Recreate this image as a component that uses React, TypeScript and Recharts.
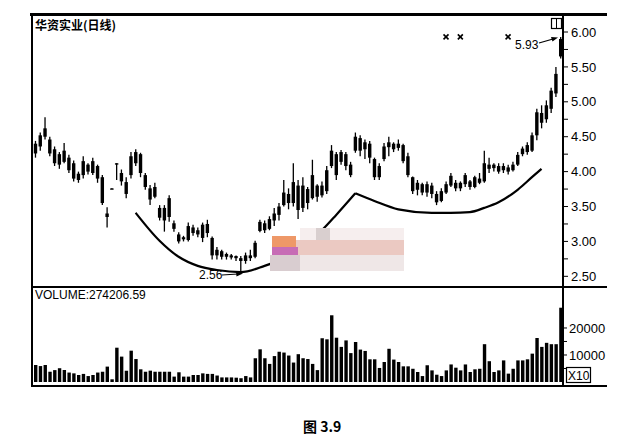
import { Bar, ComposedChart, Line, Scatter, XAxis, YAxis } from "recharts";

// daily candles (oldest first)
const opens = [
  4.26, 4.36, 4.5, 4.46, 4.32, 4.1, 4.14, 4.2, 4.12, 3.88,
  3.95, 4.1, 3.98, 4.08, 3.92, 3.4, 3.75, 4.12, 3.98, 3.85,
  3.95, 4.12, 4.25, 3.95, 3.76, 3.64, 3.48, 3.3, 3.35, 3.26,
  3.1, 3.03, 3.02, 3.2, 3.1, 3.05, 3.25, 3.05, 2.8, 2.86,
  2.78, 2.8, 2.76, 2.76, 2.72, 2.8, 2.78, 3.15, 3.26, 3.18,
  3.3, 3.38, 3.52, 3.68, 3.55, 3.8, 3.48, 3.75, 3.62, 3.8,
  3.66, 3.72, 4.08, 4.25, 4.14, 4.25, 4.1, 4.3, 4.48, 4.32,
  4.4, 4.18, 3.92, 4.18, 4.35, 4.4, 4.34, 4.38, 4.22, 3.92,
  3.74, 3.82, 3.7, 3.8, 3.68, 3.58, 3.7, 3.8, 3.84, 3.76,
  3.82, 3.86, 3.78, 3.9, 3.86, 4.1, 4.05, 4.08, 4.02, 4.06,
  4.02, 4.1, 4.25, 4.38, 4.3, 4.52, 4.84, 4.75, 4.9, 5.12,
  5.9,
];
const closes = [
  4.4, 4.52, 4.62, 4.26, 4.12, 4.25, 4.3, 4.02, 3.9, 3.97,
  4.15, 4.0, 4.15, 3.9, 3.55, 3.35, 3.76, 4.11, 3.86, 3.68,
  4.22, 4.28, 3.98, 3.78, 3.6, 3.78, 3.34, 3.48, 3.62, 3.18,
  3.0, 3.06, 3.22, 3.12, 3.16, 3.24, 3.12, 2.8, 2.88, 2.78,
  2.82, 2.77, 2.79, 2.72, 2.8, 2.76, 2.98, 3.28, 3.16, 3.32,
  3.4, 3.5, 3.7, 3.55, 3.85, 3.45, 3.8, 3.55, 3.95, 3.64,
  3.8, 4.02, 4.3, 3.95, 4.28, 4.08, 3.95, 4.5, 4.3, 4.42,
  4.2, 3.92, 4.08, 4.36, 4.42, 4.32, 4.4, 4.15, 3.95, 3.72,
  3.84, 3.7, 3.82, 3.68, 3.56, 3.72, 3.82, 3.94, 3.76, 3.84,
  3.95, 3.78, 3.92, 3.84, 4.12, 4.04, 4.1, 4.0, 4.08, 4.0,
  4.1, 4.24, 4.33, 4.28, 4.52, 4.85, 4.7, 4.95, 5.16, 5.4,
  5.65,
];
const highs = [
  4.44, 4.56, 4.78, 4.5, 4.36, 4.28, 4.41, 4.24, 4.16, 4.0,
  4.22, 4.12, 4.2, 4.1, 3.95, 3.49, 3.76, 4.12, 4.03, 3.92,
  4.28, 4.32, 4.27, 3.98, 3.81, 3.84, 3.52, 3.52, 3.66, 3.3,
  3.13, 3.08, 3.27, 3.24, 3.2, 3.27, 3.31, 3.07, 2.92, 2.88,
  2.84, 2.82, 2.8, 2.79, 2.84, 2.88, 3.01, 3.31, 3.3, 3.36,
  3.48, 3.55, 3.88, 3.76, 4.12, 3.88, 3.92, 3.78, 4.17, 3.82,
  3.86, 4.08, 4.38, 4.28, 4.31, 4.28, 4.14, 4.56, 4.52, 4.46,
  4.44, 4.2, 4.12, 4.41, 4.5, 4.42, 4.46, 4.4, 4.27, 3.93,
  3.88, 3.84, 3.86, 3.84, 3.72, 3.76, 3.86, 3.98, 3.88, 3.86,
  3.98, 3.88, 3.94, 3.98, 4.3, 4.2, 4.12, 4.12, 4.12, 4.1,
  4.14, 4.28, 4.36, 4.42, 4.56, 4.9, 4.95, 5.02, 5.2, 5.5,
  5.93,
];
const lows = [
  4.2, 4.3, 4.46, 4.22, 4.08, 4.04, 4.12, 3.98, 3.86, 3.84,
  3.9, 3.96, 3.95, 3.84, 3.52, 3.2, 3.75, 3.88, 3.8, 3.62,
  3.9, 4.08, 3.92, 3.74, 3.52, 3.62, 3.3, 3.14, 3.28, 3.14,
  2.97, 3.0, 3.0, 3.08, 3.06, 2.99, 3.06, 2.74, 2.74, 2.74,
  2.74, 2.74, 2.72, 2.56, 2.68, 2.72, 2.76, 3.13, 3.12, 3.16,
  3.22, 3.3, 3.5, 3.46, 3.5, 3.32, 3.42, 3.46, 3.6, 3.57,
  3.63, 3.68, 4.05, 3.88, 4.1, 4.02, 3.92, 4.27, 4.22, 4.18,
  4.12, 3.88, 3.88, 4.15, 4.22, 4.28, 4.3, 4.12, 3.92, 3.68,
  3.66, 3.66, 3.64, 3.62, 3.52, 3.56, 3.68, 3.78, 3.72, 3.72,
  3.78, 3.74, 3.76, 3.82, 3.84, 3.98, 4.0, 3.97, 3.98, 3.96,
  4.0, 4.08, 4.22, 4.24, 4.28, 4.45, 4.62, 4.7, 4.84, 5.07,
  5.62,
];
const volumes = [
  6300, 5900, 6300, 3800, 4400, 5100, 4400, 3500, 3200, 2600,
  3000, 2200, 2600, 3500, 3800, 5700, 1000, 12700, 9400, 4200,
  11600, 8500, 4700, 3800, 4200, 3800, 3800, 3800, 3800, 2000,
  3600, 2000, 2000, 2600, 2600, 3200, 3000, 3000, 2400, 1700,
  1700, 1700, 1600, 1400, 2200, 1700, 8800, 12100, 8800, 6700,
  9600, 11200, 10900, 9800, 7200, 10300, 8800, 8500, 6700, 4400,
  16200, 15800, 24700, 16400, 13000, 15400, 10700, 14800, 12000, 11500,
  8400, 8400, 5200, 7400, 12300, 8300, 7400, 5800, 5800, 4900,
  3700, 2200, 6200, 4300, 2700, 2200, 4300, 6500, 5300, 4300,
  6500, 3700, 4700, 4900, 14000, 7700, 3700, 4300, 8000, 3100,
  4900, 8000, 8000, 8400, 10500, 16300, 13000, 14500, 14000, 14000,
  27500,
];

// hand-drawn arcs (rounded bottom, then saucer)
const arcLeftIdx = [21, 26, 30, 34, 38, 43, 48, 52, 56, 60, 63, 67];
const arcLeftVal = [3.41, 3.01, 2.78, 2.65, 2.59, 2.56, 2.65, 2.76, 2.93, 3.16, 3.38, 3.69];
const arcRightIdx = [67, 71, 76, 83, 87, 91, 94, 97, 101, 104, 106];
const arcRightVal = [3.69, 3.58, 3.46, 3.41, 3.41, 3.42, 3.48, 3.56, 3.74, 3.92, 4.04];

// the little x signals along the top
const markIdx = [86, 89, 99];
const markVal = 5.93;

const priceTicks = [2.5, 2.75, 3, 3.25, 3.5, 3.75, 4, 4.25, 4.5, 4.75, 5, 5.25, 5.5, 5.75, 6];
const volTicks = [5000, 10000, 15000, 20000];

const pick = (idx: number[], val: number[], i: number) => {
  const k = idx.indexOf(i);
  return k >= 0 ? val[k] : null;
};

const rows = opens.map((o, i) => ({
  i,
  open: o,
  close: closes[i],
  high: highs[i],
  low: lows[i],
  range: [lows[i], highs[i]],
  vol: volumes[i],
  arc1: pick(arcLeftIdx, arcLeftVal, i),
  arc2: pick(arcRightIdx, arcRightVal, i),
  mark: markIdx.includes(i) ? markVal : null,
}));

const axisFont = { fill: "#000", fontSize: 13, fontFamily: "Liberation Sans, Arial, sans-serif" };

function Candle(props: any) {
  const { x, y, width, height, payload } = props;
  if (x == null || y == null || !payload) return null;
  const top = Math.min(y, y + height);
  const h = Math.abs(height);
  const { open, close, high, low } = payload;
  const span = high - low || 1;
  const yOf = (v: number) => top + ((high - v) / span) * h;
  const cx = x + width / 2;
  const bTop = yOf(Math.max(open, close));
  const bBot = yOf(Math.min(open, close));
  return (
    <g>
      <line x1={cx} x2={cx} y1={top} y2={top + h} stroke="#000" strokeWidth={1.3} />
      <rect x={cx - 1.7} y={bTop} width={3.4} height={Math.max(1.4, bBot - bTop)} fill="#000" />
    </g>
  );
}

function Mark(props: any) {
  const { cx, cy, payload } = props;
  if (!payload || payload.mark == null || cx == null || cy == null) return null;
  return (
    <g stroke="#000" strokeWidth={1.6}>
      <line x1={cx - 2.5} y1={cy - 2.5} x2={cx + 2.5} y2={cy + 2.5} />
      <line x1={cx - 2.5} y1={cy + 2.5} x2={cx + 2.5} y2={cy - 2.5} />
    </g>
  );
}

export default function App() {
  return (
    <div style={{ position: "relative", width: 622, height: 438, background: "#fff" }}>
      <style>{"body{margin:0;background:#fff}"}</style>

      <div style={{ position: "absolute", left: 0, top: 14 }}>
        <ComposedChart width={622} height={273} data={rows} margin={{ top: 0, right: 0, bottom: 0, left: 33 }}>
          <XAxis dataKey="i" hide />
          <YAxis
            orientation="right"
            width={59}
            domain={[2.347, 6.258]}
            allowDataOverflow
            ticks={priceTicks}
            interval={0}
            tickFormatter={(v: number) => (Math.round(v * 100) % 50 === 0 ? v.toFixed(2) : "")}
            tickSize={5}
            tickMargin={3}
            axisLine={{ stroke: "#000", strokeWidth: 2 }}
            tickLine={{ stroke: "#000" }}
            tick={axisFont}
          />
          <Bar dataKey="range" isAnimationActive={false} shape={(p: any) => <Candle {...p} />} />
          <Line dataKey="arc1" type="monotone" connectNulls stroke="#000" strokeWidth={2.2} dot={false} isAnimationActive={false} />
          <Line dataKey="arc2" type="monotone" connectNulls stroke="#000" strokeWidth={2.2} dot={false} isAnimationActive={false} />
          <Scatter dataKey="mark" isAnimationActive={false} shape={(p: any) => <Mark {...p} />} />
        </ComposedChart>
      </div>

      <div style={{ position: "absolute", left: 0, top: 288 }}>
        <ComposedChart width={622} height={98} data={rows} margin={{ top: 0, right: 0, bottom: 0, left: 33 }}>
          <XAxis dataKey="i" hide />
          <YAxis
            orientation="right"
            width={59}
            domain={[-1480, 34800]}
            allowDataOverflow
            ticks={volTicks}
            interval={0}
            tickFormatter={(v: number) => (v % 10000 === 0 ? String(v) : "")}
            tickSize={4}
            tickMargin={2}
            axisLine={{ stroke: "#000", strokeWidth: 2 }}
            tickLine={{ stroke: "#000" }}
            tick={axisFont}
          />
          <Bar dataKey="vol" fill="#000" barSize={3.4} isAnimationActive={false} />
        </ComposedChart>
      </div>

      <svg width={622} height={438} style={{ position: "absolute", left: 0, top: 0, pointerEvents: "none" }}>
        {/* frame */}
        <rect x={30} y={13} width={577} height={3} fill="#000" />
        <rect x={31} y={13} width={2} height={374} fill="#000" />
        <rect x={31} y={286} width={576} height={2} fill="#000" />
        <rect x={31} y={385} width={576} height={2} fill="#000" />

        {/* pixelated watermark */}
        <rect x={300} y={228} width={104} height={12} fill="#f6eeee" />
        <rect x={316} y={228} width={14} height={12} fill="#d9cfcf" />
        <rect x={296} y={240} width={108} height={15} fill="#ebc9c2" />
        <rect x={270} y={255} width={134} height={16} fill="#efe7e7" />
        <rect x={270} y={255} width={30} height={16} fill="#d9cdd0" />
        <rect x={272} y={236} width={24} height={12} fill="#ee9868" />
        <rect x={272} y={247} width={26} height={8} fill="#c76cb5" />

        <text x={35} y={30} fontFamily="Noto Sans CJK SC" fontWeight={700} fontSize={12} fill="#000">
          华资实业(日线)
        </text>
        <text x={35} y={299} fontFamily="Liberation Sans, Arial" fontSize={12} fill="#000">
          VOLUME:274206.59
        </text>

        <text x={515} y={49} fontFamily="Liberation Sans, Arial" fontSize={12} fill="#000">
          5.93
        </text>
        <line x1={539} y1={43} x2={553} y2={39} stroke="#000" strokeWidth={1.2} />
        <polygon points="558,37.5 551,37 552.5,41.5" fill="#000" />

        <text x={199} y={279} fontFamily="Liberation Sans, Arial" fontSize={12} fill="#000">
          2.56
        </text>
        <line x1={222} y1={275} x2={238} y2={274} stroke="#000" strokeWidth={1.2} />
        <polygon points="243,273.5 236,271.5 236.5,276.5" fill="#000" />

        <rect x={551.5} y={18.5} width={10} height={10} fill="none" stroke="#000" strokeWidth={1.2} />
        <line x1={556.5} y1={19} x2={556.5} y2={28} stroke="#000" strokeWidth={1} />

        <rect x={566.5} y={367.5} width={24} height={15} fill="none" stroke="#000" strokeWidth={1.2} />
        <text x={568} y={380} fontFamily="Liberation Sans, Arial" fontSize={12} fill="#000">
          X10
        </text>

        <text x={303} y={432} fontFamily="Noto Sans CJK SC" fontWeight={700} fontSize={14} fill="#000">
          图 3.9
        </text>
      </svg>
    </div>
  );
}
